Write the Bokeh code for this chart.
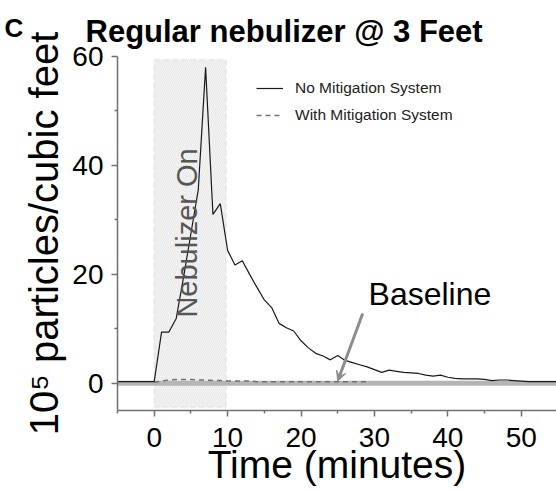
from bokeh.plotting import figure
from bokeh.models import (Range1d, FixedTicker, BoxAnnotation, Span, Arrow, VeeHead,
                          Label, Legend, LegendItem, ColumnDataSource, Title)
from bokeh.embed import file_html
from bokeh.resources import INLINE

# ---- data ----
time_no = list(range(-5, 56))
particles_no = [0.3, 0.3, 0.3, 0.3, 0.3, 0.3,          # -5..0
                9.4, 9.4, 11.9, 19.5, 27.5, 35.5, 58.0, # 1..7
                31.0, 33.0, 24.4, 21.7, 22.5, 20.0, 17.6, 15.3,  # 8..15
                13.9, 11.0, 10.2, 9.6, 7.8, 6.5, 5.5, 5.0, 4.3,  # 16..24
                5.1, 4.2, 3.8, 3.4, 3.0, 2.5, 2.0, 2.4, 2.2, 2.0,  # 25..34
                1.9, 1.8, 1.5, 1.3, 1.5, 1.1, 0.9, 0.8, 0.8, 0.8,  # 35..44
                0.7, 0.5, 0.6, 0.6, 0.5, 0.4, 0.3, 0.3, 0.3, 0.3, 0.3]  # 45..55
time_with = list(range(0, 30))
particles_with = [0.2, 0.4, 0.6, 0.7, 0.7, 0.7, 0.6, 0.6, 0.5, 0.5,
                  0.4, 0.4, 0.4, 0.4, 0.3, 0.3, 0.3, 0.3, 0.3, 0.3,
                  0.3, 0.3, 0.3, 0.3, 0.3, 0.3, 0.3, 0.3, 0.3, 0.3]
x_major = [0, 10, 20, 30, 40, 50]
x_minor = [-5, 5, 15, 25, 35, 45, 55]
y_major = [0, 20, 40, 60]
y_minor = [10, 30, 50]
neb_start, neb_end = 0, 9.8
baseline_value = 0

FONT = "Liberation Sans"

p = figure(width=556, height=490, output_backend="svg", toolbar_location=None,
           x_range=Range1d(-5, 54.8), y_range=Range1d(-5, 60),
           min_border_left=117, min_border_right=0, min_border_top=56, min_border_bottom=80)
p.outline_line_color = None
p.xgrid.visible = False
p.ygrid.visible = False
p.background_fill_color = "white"
p.border_fill_color = "white"

for ax in (p.xaxis[0], p.yaxis[0]):
    ax.axis_line_color = "#707070"
    ax.axis_line_width = 1.5
    ax.major_tick_line_color = "#707070"
    ax.minor_tick_line_color = "#707070"
    ax.major_tick_line_width = 1.5
    ax.minor_tick_line_width = 1.5
    ax.major_tick_out = 6
    ax.major_tick_in = 0
    ax.minor_tick_out = 3
    ax.minor_tick_in = 0
    ax.major_label_text_font = FONT
    ax.major_label_text_font_size = "28px"
    ax.major_label_text_color = "black"
    ax.axis_label_text_font = FONT
    ax.axis_label_text_font_style = "normal"
    ax.axis_label_text_color = "black"

p.xaxis.ticker = FixedTicker(ticks=x_major, minor_ticks=x_minor)
p.yaxis.ticker = FixedTicker(ticks=y_major, minor_ticks=y_minor)
p.xaxis.major_label_standoff = 11
p.yaxis.major_label_standoff = 8
p.xaxis.axis_label = "Time (minutes)"
p.xaxis.axis_label_text_font_size = "39px"
p.xaxis.axis_label_standoff = -7
p.yaxis.axis_label = "10\u2075 particles/cubic feet"
p.yaxis.axis_label_text_font_size = "40px"
p.yaxis.axis_label_standoff = 3

# title
p.add_layout(Title(text="Regular nebulizer @ 3 Feet", text_font=FONT, text_font_size="31px",
                   text_font_style="bold", text_color="black", align="left", offset=-32,
                   standoff=16), "above")
# panel letter, placed in the left border panel so it is not clipped to the frame
p.add_layout(Label(x=4, y=383, x_units="screen", y_units="screen", text="C", text_font=FONT,
                   text_font_size="26px", text_font_style="bold", text_color="black",
                   text_align="left", text_baseline="alphabetic"), "left")

# Nebulizer-on box
box = BoxAnnotation(left=neb_start, right=neb_end, bottom=-4.4, top=59.4,
                    fill_color="#f3f3f3", fill_alpha=1.0,
                    hatch_pattern="/", hatch_color="#e2e2e2", hatch_scale=4, hatch_weight=0.6,
                    line_color="#cfcfcf", line_width=2, line_dash="6 3", level="underlay")
p.add_layout(box)

# baseline band
p.add_layout(Span(location=baseline_value, dimension="width", line_color="#b5b5b5",
                  line_width=5, level="underlay"))

src_no = ColumnDataSource(dict(t=time_no, v=particles_no))
src_with = ColumnDataSource(dict(t=time_with, v=particles_with))
r_with = p.line("t", "v", source=src_with, line_color="#707070", line_width=1.5, line_dash="5 4")
r_no = p.line("t", "v", source=src_no, line_color="#1a1a1a", line_width=1.2)

legend = Legend(items=[LegendItem(label="No Mitigation System", renderers=[r_no]),
                       LegendItem(label="With Mitigation System", renderers=[r_with])],
                location=(139, 285), padding=0, margin=0, spacing=7,
                glyph_width=27, glyph_height=20, label_height=20, label_standoff=12,
                label_text_font=FONT, label_text_font_size="15.5px", label_text_color="#222222",
                border_line_color=None, background_fill_alpha=0)
p.add_layout(legend, "center")

p.add_layout(Arrow(end=VeeHead(size=10, line_color="#8c8c8c", fill_color="#8c8c8c", line_width=1),
                   x_start=28.4, y_start=12.8, x_end=25.0, y_end=0.4,
                   line_color="#8c8c8c", line_width=3))

p.add_layout(Label(x=29.2, y=16.3, text="Baseline", text_font=FONT, text_font_size="32px",
                   text_color="black", text_align="left", text_baseline="alphabetic"))
p.add_layout(Label(x=4.4, y=27.6, text="Nebulizer On", text_font=FONT, text_font_size="29px",
                   text_color="#555555", angle=1.5708, text_align="center", text_baseline="middle"))

open("out.html", "w").write(file_html(p, INLINE))
